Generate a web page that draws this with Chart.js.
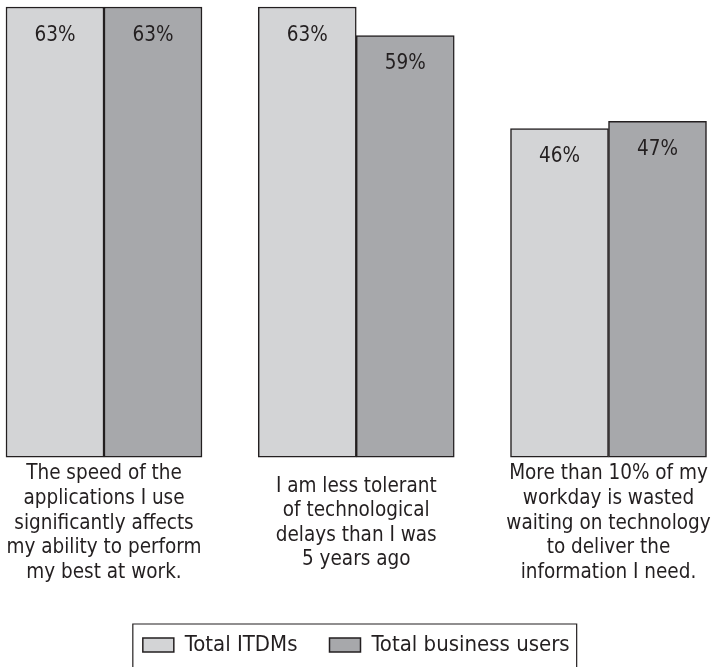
<!DOCTYPE html>
<html>
<head>
<meta charset="utf-8">
<script src="https://cdn.jsdelivr.net/npm/chart.js@4"></script>
<style>
  html, body { margin: 0; padding: 0; background: #fff; }
  #wrap { width: 720px; height: 667px; }
</style>
</head>
<body>
<div id="wrap"><canvas id="speedChart"></canvas></div>
<script>
const categories = [
    ["The speed of the", "applications I use", "significantly affects", "my ability to perform", "my best at work."],
    ["I am less tolerant", "of technological", "delays than I was", "5 years ago"],
    ["More than 10% of my", "workday is wasted", "waiting on technology", "to deliver the", "information I need."]
];
const itdms = [63, 63, 46];
const businessUsers = [63, 59, 47];
const seriesNames = ["Total ITDMs", "Total business users"];

const FONT = "'DejaVu Sans Condensed', 'Liberation Sans Narrow', sans-serif";
const INK = "#231f20";

// percent labels just inside the top of each bar
const valueLabels = {
    id: "valueLabels",
    afterDatasetsDraw(chart) {
        const ctx = chart.ctx;
        ctx.save();
        ctx.font = "20.5px " + FONT;
        ctx.fillStyle = INK;
        ctx.textAlign = "center";
        ctx.textBaseline = "top";
        chart.data.datasets.forEach((ds, i) => {
            chart.getDatasetMeta(i).data.forEach((bar, j) => {
                ctx.fillText(ds.data[j] + "%", bar.x, bar.y + 18);
            });
        });
        ctx.restore();
    }
};

// frame round the legend, open at the bottom edge
const legendFrame = {
    id: "legendFrame",
    afterDraw(chart) {
        const boxes = chart.legend.legendHitBoxes;
        if (!boxes || !boxes.length) return;
        const first = boxes[0], last = boxes[boxes.length - 1];
        const left = first.left - 10;
        const right = last.left + last.width + 7;
        const top = first.top + first.height / 2 - 21;
        const ctx = chart.ctx;
        ctx.save();
        ctx.strokeStyle = INK;
        ctx.lineWidth = 1.2;
        ctx.beginPath();
        ctx.moveTo(left, chart.height + 2);
        ctx.lineTo(left, top);
        ctx.lineTo(right, top);
        ctx.lineTo(right, chart.height + 2);
        ctx.stroke();
        ctx.restore();
    }
};

const data = {
    labels: categories,
    datasets: [
        {
            label: seriesNames[0],
            data: itdms,
            backgroundColor: "#d3d4d6",
            borderColor: INK,
            borderWidth: 1.5,
            borderSkipped: false,
            barThickness: 98,
            clip: false
        },
        {
            label: seriesNames[1],
            data: businessUsers,
            backgroundColor: "#a7a8ab",
            borderColor: INK,
            borderWidth: 1.5,
            borderSkipped: false,
            barThickness: 98,
            clip: false
        }
    ]
};

const config = {
    type: "bar",
    data: data,
    options: {
        responsive: true,
        maintainAspectRatio: false,
        animation: false,
        layout: {
            padding: { left: 104, right: 111.5, top: 7, bottom: 1 }
        },
        scales: {
            x: {
                offset: false,
                grid: { display: false, drawTicks: false },
                border: { display: false },
                ticks: {
                    color: INK,
                    padding: 16.8,
                    crossAlign: "center",
                    maxRotation: 0,
                    autoSkip: false,
                    font: { family: FONT, size: 20.5, lineHeight: 1.2 }
                },
                afterFit(scale) {
                    // side room comes from layout padding; trim the axis height to sit the bars lower
                    scale.paddingLeft = 0;
                    scale.paddingRight = 0;
                    scale.height -= 11.8;
                }
            },
            y: {
                display: false,
                min: 0,
                max: 63
            }
        },
        plugins: {
            legend: {
                position: "bottom",
                labels: {
                    color: INK,
                    boxWidth: 31,
                    boxHeight: 14,
                    padding: 32,
                    font: { family: FONT, size: 22 }
                }
            },
            tooltip: { enabled: false }
        }
    },
    plugins: [valueLabels, legendFrame]
};

const myChart = new Chart(document.getElementById("speedChart"), config);
</script>
</body>
</html>
